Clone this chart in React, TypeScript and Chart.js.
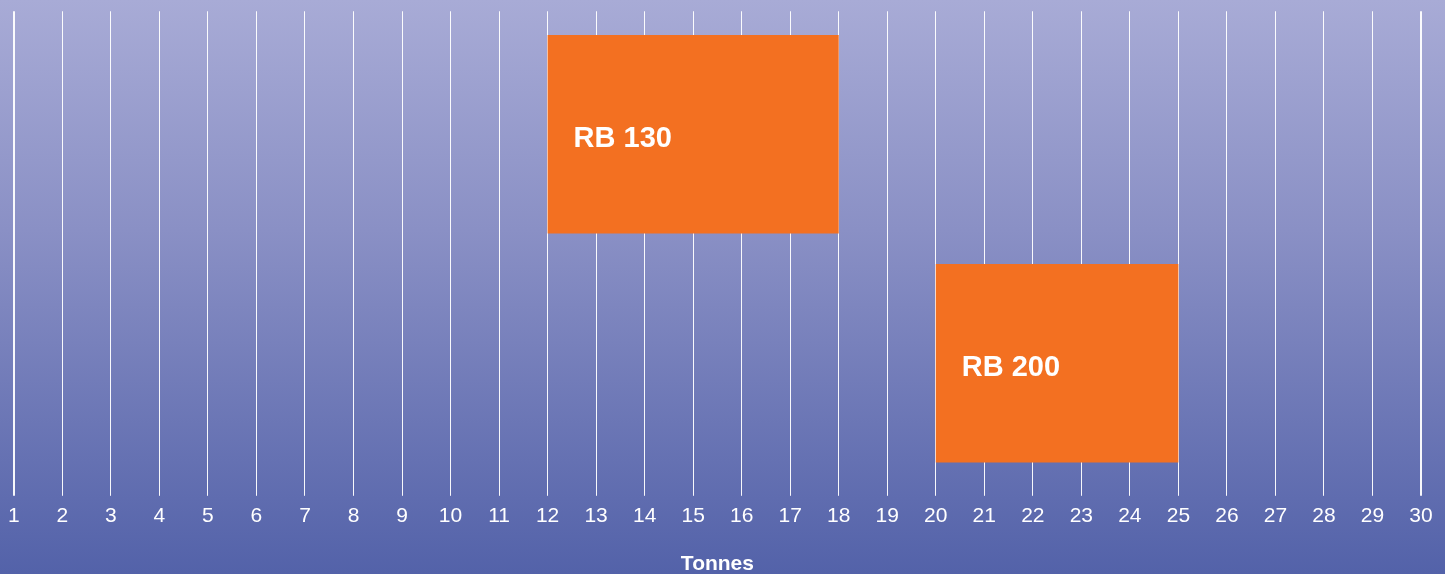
import React, { useEffect, useRef } from "react";
import { Chart, registerables } from "chart.js";

Chart.register(...registerables);

const categories = ["RB 130", "RB 200"];
const rangeStart = [12, 20];
const rangeEnd = [18, 25];
const axisMin = 1;
const axisMax = 30;
const axisTitle = "Tonnes";

const FONT = '"Liberation Sans", Arial, sans-serif';

const barLabelPlugin = {
  id: "barLabels",
  afterDatasetsDraw(chart: any) {
    const ctx = chart.ctx;
    const meta = chart.getDatasetMeta(0);
    ctx.save();
    ctx.fillStyle = "#ffffff";
    ctx.font = `bold 29px ${FONT}`;
    ctx.textAlign = "left";
    ctx.textBaseline = "middle";
    meta.data.forEach((el: any, i: number) => {
      const left = Math.min(el.base, el.x);
      ctx.fillText(categories[i], left + 26, el.y + 5);
    });
    ctx.restore();
  },
};

export default function App() {
  const canvasRef = useRef<HTMLCanvasElement | null>(null);

  useEffect(() => {
    if (!canvasRef.current) return;
    const lw = (c: any) => (c.index === 0 || c.index === axisMax - axisMin ? 2 : 1);
    const chart = new Chart(canvasRef.current, {
      type: "bar",
      data: {
        labels: categories,
        datasets: [
          {
            data: rangeStart.map((s, i) => [s, rangeEnd[i]]) as any,
            backgroundColor: "#f37021",
            borderWidth: 0,
            barPercentage: 1,
            categoryPercentage: 0.867,
          },
        ],
      },
      options: {
        indexAxis: "y",
        animation: false,
        responsive: false,
        maintainAspectRatio: false,
        layout: { padding: { top: 11.25, left: 12, right: 24, bottom: 0 } },
        plugins: { legend: { display: false }, tooltip: { enabled: false } },
        scales: {
          x: {
            type: "linear",
            position: "bottom",
            min: axisMin,
            max: axisMax,
            border: { display: false },
            grid: {
              color: "rgba(255,255,255,0.95)",
              lineWidth: lw,
              tickLength: 18,
            },
            ticks: {
              stepSize: 1,
              color: "#ffffff",
              padding: 8,
              font: { family: FONT, size: 21 },
              maxRotation: 0,
              autoSkip: false,
            },
            title: {
              display: true,
              text: axisTitle,
              color: "#ffffff",
              font: { family: FONT, size: 21, weight: "bold" },
              padding: { top: 14.8, bottom: -3 },
            },
          },
          x2: {
            type: "linear",
            position: "top",
            min: axisMin,
            max: axisMax,
            border: { display: false },
            grid: {
              color: "rgba(255,255,255,0.95)",
              lineWidth: lw,
              tickLength: 8.5,
              drawOnChartArea: false,
            },
            ticks: { stepSize: 1, display: false, autoSkip: false },
          },
          y: {
            type: "category",
            display: false,
          },
        },
      },
      plugins: [barLabelPlugin],
    });
    return () => chart.destroy();
  }, []);

  return (
    <div
      style={{
        position: "fixed",
        left: 0,
        top: 0,
        width: 1445,
        height: 574,
        overflow: "hidden",
        background: "linear-gradient(to bottom, #a8abd6 0%, #8a90c5 40%, #5362a9 100%)",
      }}
    >
      <canvas ref={canvasRef} width={1445} height={574} style={{ display: "block" }} />
    </div>
  );
}
